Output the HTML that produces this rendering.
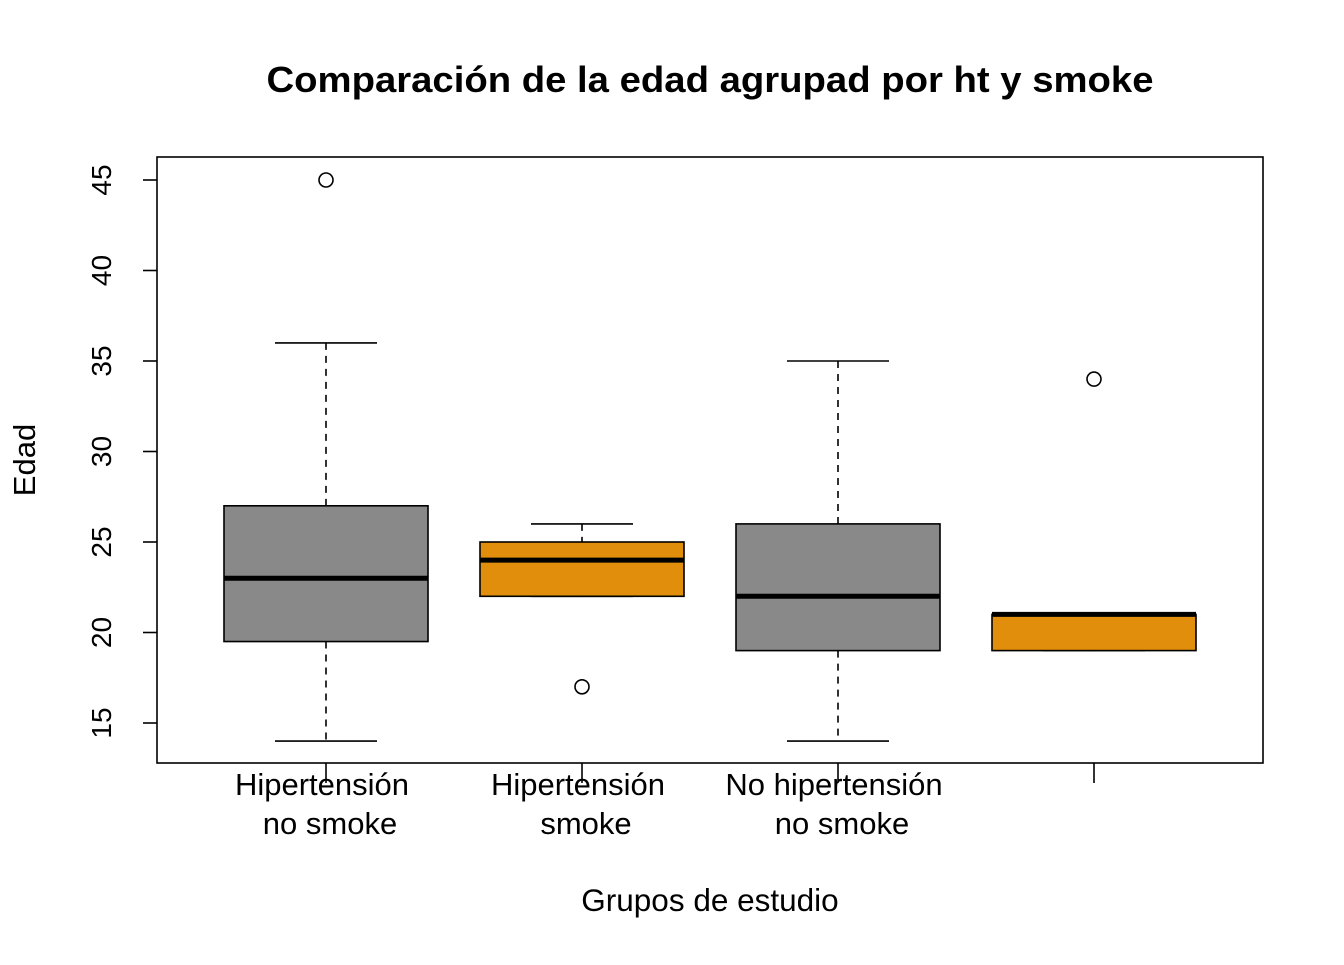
<!DOCTYPE html>
<html><head><meta charset="utf-8"><style>
html,body{margin:0;padding:0;background:#fff;}
svg text{font-family:"Liberation Sans",Arial,sans-serif;fill:#000;}
</style></head><body>
<svg id="chart" width="1344" height="960" viewBox="0 0 1344 960" xmlns="http://www.w3.org/2000/svg">
<text x="710" y="92" text-anchor="middle" font-size="36" font-weight="bold" textLength="887" lengthAdjust="spacingAndGlyphs">Comparación de la edad agrupad por ht y smoke</text>
<rect x="157" y="157" width="1106" height="606" fill="none" stroke="#000" stroke-width="1.6"/>
<g id="marks"></g>
<text x="710" y="911" text-anchor="middle" font-size="31.5">Grupos de estudio</text>
<text transform="translate(35,460) rotate(-90)" text-anchor="middle" font-size="31">Edad</text>
</svg>
<script>
const categories = ["Hipertensión\nno smoke","Hipertensión\nsmoke","No hipertensión\nno smoke",""];
const colors = ["#898989","#E08E0B","#898989","#E08E0B"];
const whiskerLow = [14,22,14,19];
const q1 = [19.5,22,19,19];
const median = [23,24,22,21];
const q3 = [27,25,26,21];
const whiskerHigh = [36,26,35,21];
const outliers = [[45],[17],[],[34]];
const yTicks = [15,20,25,30,35,40,45];

const NS="http://www.w3.org/2000/svg";
const g=document.getElementById('marks');
const y=v=>723-(v-15)*(543/30);
const x=i=>326+i*256;
function mk(tag,attrs){const e=document.createElementNS(NS,tag);for(const k in attrs)e.setAttribute(k,attrs[k]);g.appendChild(e);return e;}

yTicks.forEach(t=>{
  const l=mk('line',{x1:143,x2:157,y1:y(t),y2:y(t),stroke:'#000','stroke-width':1.6});
  
  
  const tx=mk('text',{transform:`translate(111,${y(t)}) rotate(-90)`,'text-anchor':'middle','font-size':28});
  tx.textContent=t;
  
  
});

categories.forEach((c,i)=>{
  const cx=x(i);
  const tk=mk('line',{x1:cx,x2:cx,y1:763,y2:783,stroke:'#000','stroke-width':1.6});
  
  
  c.split('\n').forEach((s,j)=>{
    if(!s)return;
    const t=mk('text',{x:cx+(j?4:-4),y:795+j*39,'text-anchor':'middle','font-size':31});
    t.textContent=s;
    
    
  });
  const w1=mk('line',{x1:cx,x2:cx,y1:y(whiskerHigh[i]),y2:y(q3[i]),stroke:'#000','stroke-width':1.6,'stroke-dasharray':'7,6'});
  
  
  const w2=mk('line',{x1:cx,x2:cx,y1:y(q1[i]),y2:y(whiskerLow[i]),stroke:'#000','stroke-width':1.6,'stroke-dasharray':'7,6'});
  
  
  [whiskerHigh[i],whiskerLow[i]].forEach(v=>{
    const cap=mk('line',{x1:cx-51,x2:cx+51,y1:y(v),y2:y(v),stroke:'#000','stroke-width':1.6});
    
    
  });
  const b=mk('rect',{x:cx-102,width:204,y:y(q3[i]),height:Math.max(0.5,y(q1[i])-y(q3[i])),fill:colors[i],stroke:'#000','stroke-width':1.6});
  
  
  const m=mk('line',{x1:cx-102,x2:cx+102,y1:y(median[i]),y2:y(median[i]),stroke:'#000','stroke-width':5});
  
  
  outliers[i].forEach(o=>{
    const p=mk('circle',{cx:cx,cy:y(o),r:7,fill:'none',stroke:'#000','stroke-width':1.6});
    
    
  });
});
</script>
</body></html>
